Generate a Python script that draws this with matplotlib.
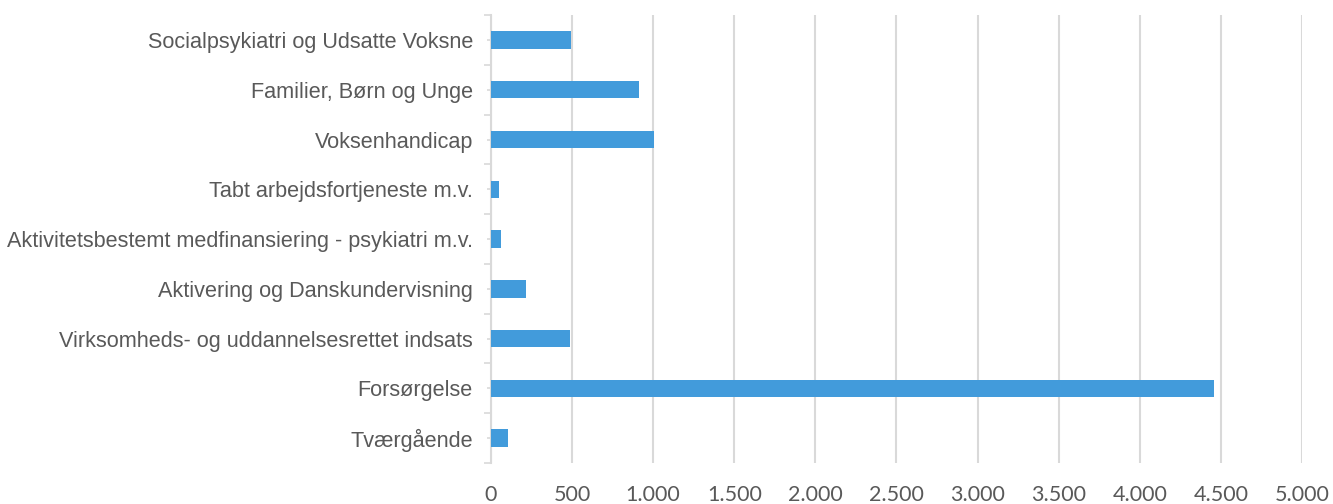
import numpy as np
import matplotlib
matplotlib.use("Agg")
import matplotlib.pyplot as plt
from matplotlib.ticker import FuncFormatter, FixedLocator

# data, top to bottom as shown
categories = [
    "Socialpsykiatri og Udsatte Voksne",
    "Familier, Børn og Unge",
    "Voksenhandicap",
    "Tabt arbejdsfortjeneste m.v.",
    "Aktivitetsbestemt medfinansiering - psykiatri m.v.",
    "Aktivering og Danskundervisning",
    "Virksomheds- og uddannelsesrettet indsats",
    "Forsørgelse",
    "Tværgående",
]
values = [492, 912, 1003, 47, 62, 214, 490, 4455, 105]
x_ticks = list(range(0, 5001, 500))

plt.rcParams["font.family"] = ["Liberation Sans", "DejaVu Sans"]
text_col = "#595959"
grid_col = "#D9D9D9"

fig = plt.figure(figsize=(13.33, 5.04), dpi=100)
ax = fig.add_axes([0.3683, 0.0813, 0.9767 - 0.3683, 0.970 - 0.0813])

y = np.arange(len(categories))
ax.barh(y, values, height=0.35, color="#429BDB", zorder=3)

ax.set_ylim(len(categories) - 0.5, -0.5)
ax.set_xlim(0, 5000)
ax.set_xticks(x_ticks)
ax.xaxis.set_major_formatter(FuncFormatter(lambda v, p: f"{int(v):,}".replace(",", ".")))
ax.grid(axis="x", color=grid_col, linewidth=1.5, zorder=0)

ax.set_yticks(y)
ax.set_yticklabels(categories)
ax.yaxis.set_minor_locator(FixedLocator(np.arange(-0.5, len(categories), 1.0)))

for s in ["top", "right", "bottom"]:
    ax.spines[s].set_visible(False)
ax.spines["left"].set_color(grid_col)
ax.spines["left"].set_linewidth(1.5)

ax.tick_params(axis="x", length=0, pad=16, labelsize=15.5, labelcolor=text_col)
for lbl in ax.get_xticklabels():
    lbl.set_fontfamily(["Lato", "DejaVu Sans"])
ax.tick_params(axis="y", which="major", length=3, width=1.2, color=grid_col,
               pad=10, labelsize=15.6, labelcolor=text_col)
ax.tick_params(axis="y", which="minor", length=5, width=1.2, color=grid_col)

fig.savefig("out.png", dpi=100)
